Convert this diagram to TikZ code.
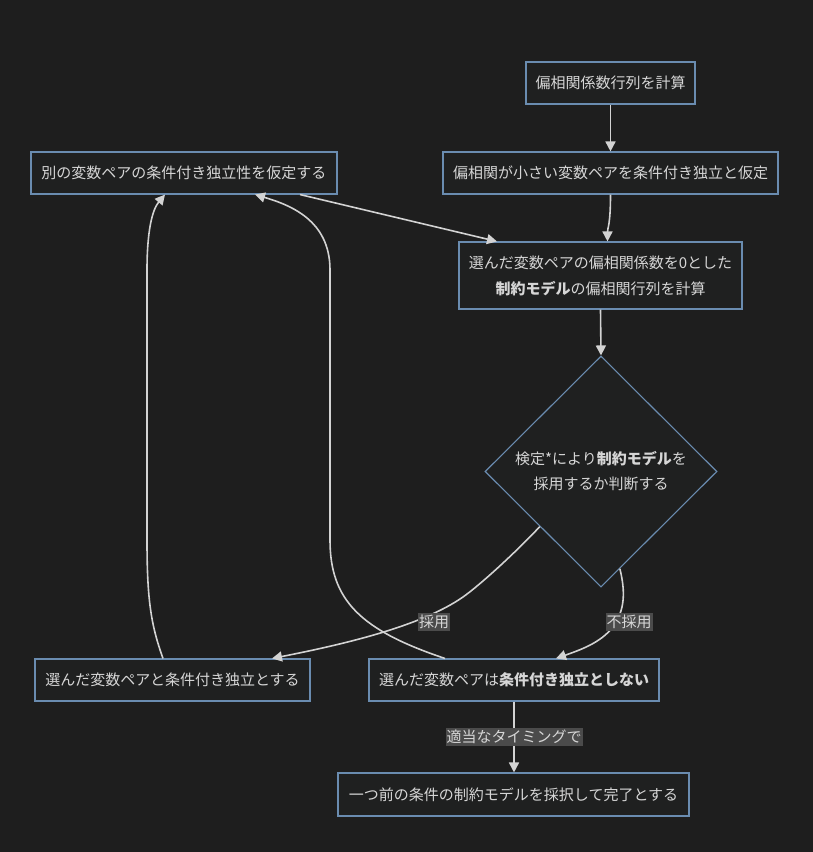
\documentclass[tikz,border=0pt]{standalone}
\usepackage{fontspec}
\setmainfont{Noto Sans CJK JP}
\usetikzlibrary{arrows.meta,shapes.geometric}
\definecolor{bg}{HTML}{1E1E1E}
\definecolor{nodeborder}{HTML}{6A8CB0}
\definecolor{nodefill}{HTML}{1F2020}
\definecolor{txt}{HTML}{D6D6D6}
\definecolor{edgecol}{HTML}{D3D3D3}
\definecolor{lblbg}{HTML}{4B4B4B}
\begin{document}
\begin{tikzpicture}[x=1pt,y=-1pt,
  box/.style={draw=nodeborder, line width=1.1pt, fill=nodefill, text=txt, inner sep=0pt,
    font=\fontsize{15}{26}\selectfont, align=center},
  diam/.style={diamond, draw=nodeborder, line width=1.1pt, fill=nodefill, inner sep=0pt,
    minimum width=232pt, minimum height=231pt},
  dtext/.style={text=txt, inner sep=0pt, font=\fontsize{15}{25}\selectfont, align=center},
  conn/.style={draw=edgecol, line width=1.6pt, -{Triangle[length=10pt,width=10pt]}},
  lbl/.style={fill=lblbg, text=txt, inner xsep=1pt, inner ysep=2.5pt, font=\fontsize{15}{18}\selectfont}]
\useasboundingbox (0,0) rectangle (812,852);
\fill[bg] (-4,-4) rectangle (816,856);

% nodes
\node[box, minimum width=169pt, minimum height=42pt] (A) at (610.5,83) {偏相関係数行列を計算};
\node[box, minimum width=335pt, minimum height=42pt] (B) at (610.5,173) {偏相関が小さい変数ペアを条件付き独立と仮定};
\node[box, minimum width=306pt, minimum height=42pt] (C) at (184,173) {別の変数ペアの条件付き独立性を仮定する};
\node[box, minimum width=283pt, minimum height=67pt] (D) at (600.5,275.5) {選んだ変数ペアの偏相関係数を0とした\\\textbf{制約モデル}の偏相関行列を計算};
\node[diam] (E) at (601,471.5) {};
\node[dtext] (Et) at (601,471.5) {検定*により\textbf{制約モデル}を\\採用するか判断する};
\node[box, minimum width=275pt, minimum height=42pt] (F) at (172.5,680) {選んだ変数ペアと条件付き独立とする};
\node[box, minimum width=290pt, minimum height=42pt] (G) at (514,680) {選んだ変数ペアは\textbf{条件付き独立としない}};
\node[box, minimum width=351pt, minimum height=43pt] (H) at (513.5,794.5) {一つ前の条件の制約モデルを採択して完了とする};

% connectors
\draw[conn] (A) -- (B);
\draw[conn] (B.south) .. controls (610.5,225) and (607.5,228) .. ([xshift=7pt]D.north);
\draw[conn] ([xshift=116pt]C.south) -- ([xshift=-103.5pt]D.north);
\draw[conn] (D.south) -- (E.north);
\draw[conn] (E.222.8) .. controls (515,553) and (480,585) .. (463,597)
  .. controls (420,627) and (340,645) .. ([xshift=99.5pt]F.north);
\draw[conn] (E.281.8) .. controls (625,590) and (626,610) .. (612,628)
  .. controls (600,643) and (580,650) .. ([xshift=42pt]G.north);
\draw[conn] ([xshift=-9.5pt]F.north) .. controls (151,625) and (147,600) .. (147,540)
  -- (147,270) .. controls (147,232) and (152,210) .. ([xshift=-19pt]C.south);
\draw[conn] ([xshift=-69pt]G.north) .. controls (360,630) and (330,600) .. (330,540)
  -- (330,270) .. controls (330,220) and (290,205) .. ([xshift=71pt]C.south);
\draw[conn] (G.south) -- (G.south |- H.north);

% labels
\node[lbl] (l1) at (434,622) {採用};
\node[lbl] (l2) at (629,622) {不採用};
\node[lbl] (l3) at (514,737) {適当なタイミングで};
\end{tikzpicture}
\end{document}
